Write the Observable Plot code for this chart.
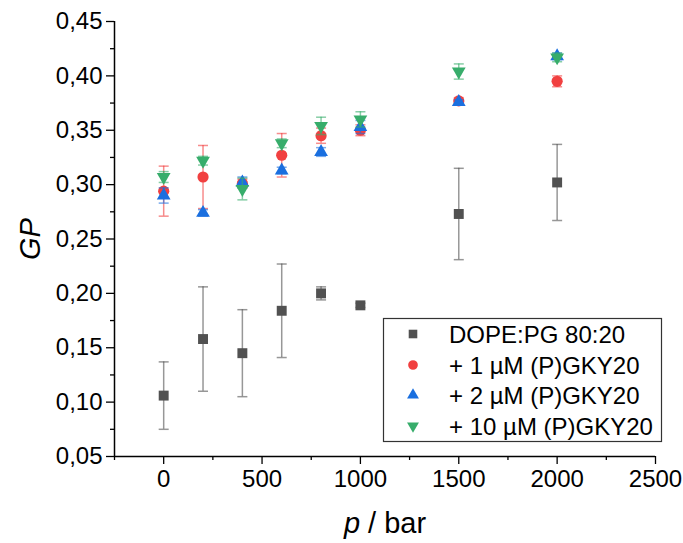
<!DOCTYPE html>
<html>
<head>
<meta charset="utf-8">
<script src="https://cdn.jsdelivr.net/npm/d3@7"></script>
<script src="https://cdn.jsdelivr.net/npm/@observablehq/plot@0.6"></script>
<style>
  html, body { margin: 0; padding: 0; background: #fff; }
  #chart { position: relative; width: 683px; height: 543px; }
  svg { font-family: "Liberation Sans", Arial, sans-serif; }
</style>
</head>
<body>
<div id="chart"></div>
<script>
// ---- data ----
const pressure = [0, 200, 400, 600, 800, 1000, 1500, 2000];
const seriesNames = ["DOPE:PG 80:20", "+ 1 µM (P)GKY20", "+ 2 µM (P)GKY20", "+ 10 µM (P)GKY20"];
const gpDope = [0.106, 0.158, 0.145, 0.184, 0.200, 0.189, 0.273, 0.302];
const errDope = [0.031, 0.048, 0.040, 0.043, 0.006, 0.002, 0.042, 0.035];
const gp1 = [0.294, 0.307, 0.301, 0.327, 0.345, 0.350, 0.377, 0.395];
const err1 = [0.023, 0.029, 0.004, 0.020, 0.007, 0.005, 0.003, 0.005];
const gp2 = [0.290, 0.274, 0.302, 0.313, 0.330, 0.353, 0.376, 0.418];
const err2 = [0.007, 0.003, 0.005, 0.003, 0.004, 0.006, 0.002, 0.003];
const gp10 = [0.307, 0.322, 0.296, 0.338, 0.354, 0.360, 0.404, 0.417];
const err10 = [0.005, 0.004, 0.010, 0.004, 0.008, 0.007, 0.007, 0.004];
const xTicks = [0, 500, 1000, 1500, 2000, 2500];
const xMinorTicks = [-250, 250, 750, 1250, 1750, 2250];
const yTicks = [0.05, 0.10, 0.15, 0.20, 0.25, 0.30, 0.35, 0.40, 0.45];
const yMinorTicks = [0.075, 0.125, 0.175, 0.225, 0.275, 0.325, 0.375, 0.425];
const xDomain = [-250, 2500];
const yDomain = [0.05, 0.45];
const colors = ["#515151", "#F14040", "#1A6FDF", "#37AD6B"];

// ---- symbols ----
const triangleDown = {
  draw(context, size) {
    const y = -Math.sqrt(size / (Math.sqrt(3) * 3));
    context.moveTo(0, -y * 2);
    context.lineTo(-Math.sqrt(3) * y, y);
    context.lineTo(Math.sqrt(3) * y, y);
    context.closePath();
  }
};
const cap = {
  draw(context, size) {
    context.moveTo(-5, 0);
    context.lineTo(5, 0);
  }
};
const symbols = [d3.symbolSquare, d3.symbolCircle, d3.symbolTriangle, triangleDown];
const radii = [5.6, 5.6, 5.1, 5.1];

const gps = [gpDope, gp1, gp2, gp10];
const errs = [errDope, err1, err2, err10];
const series = gps.map((g, s) => pressure.map((p, i) => ({p, gp: g[i], e: errs[s][i], s})));

const fmtY = d => d.toFixed(2).replace(".", ",");
const fmtX = d => String(d);

const marks = [];
series.forEach((data, s) => {
  const c = colors[s];
  marks.push(Plot.ruleX(data, {x: "p", y1: d => d.gp - d.e, y2: d => d.gp + d.e, stroke: c, strokeOpacity: 0.6, strokeWidth: 1.5}));
  marks.push(Plot.dot(data, {x: "p", y: d => d.gp - d.e, symbol: cap, r: 3, fill: "none", stroke: c, strokeOpacity: 0.6, strokeWidth: 1.5}));
  marks.push(Plot.dot(data, {x: "p", y: d => d.gp + d.e, symbol: cap, r: 3, fill: "none", stroke: c, strokeOpacity: 0.6, strokeWidth: 1.5}));
  marks.push(Plot.dot(data, {x: "p", y: "gp", symbol: symbols[s], r: radii[s], fill: c, stroke: "none"}));
});

const chart = Plot.plot({
  width: 683,
  height: 543,
  marginLeft: 114,
  marginRight: 28,
  marginTop: 21,
  marginBottom: 87,
  style: {fontFamily: "Liberation Sans, Arial, sans-serif", color: "#000", background: "#fff"},
  x: {domain: xDomain, nice: false},
  y: {domain: yDomain, nice: false},
  marks: [
    Plot.axisX({ticks: xTicks, tickSize: 8, tickPadding: 5, fontSize: 24, tickFormat: fmtX, label: null, strokeWidth: 1.3}),
    Plot.axisX({ticks: xMinorTicks, tickSize: 4, text: null, label: null, strokeWidth: 1.3}),
    Plot.axisY({ticks: yTicks, tickSize: 8, tickPadding: 4, fontSize: 24, tickFormat: fmtY, label: null, strokeWidth: 1.3}),
    Plot.axisY({ticks: yMinorTicks, tickSize: 4, text: null, label: null, strokeWidth: 1.3}),
    Plot.ruleX([xDomain[0]], {strokeWidth: 1.5}),
    Plot.ruleY([yDomain[0]], {strokeWidth: 1.5}),
    ...marks
  ]
});

document.getElementById("chart").appendChild(chart);

// ---- axis titles and legend ----
const svg = d3.select(chart);
const xt = svg.append("text")
  .attr("x", 385).attr("y", 533)
  .attr("text-anchor", "middle")
  .attr("font-size", 29).attr("fill", "#000");
xt.append("tspan").attr("font-style", "italic").text("p");
xt.append("tspan").text(" / bar");

svg.append("text")
  .attr("transform", "translate(40,239) rotate(-90)")
  .attr("text-anchor", "middle")
  .attr("font-size", 29).attr("font-style", "italic").attr("fill", "#000")
  .text("GP");

const lg = svg.append("g").attr("text-anchor", "start");
lg.append("rect")
  .attr("x", 383.5).attr("y", 318.5).attr("width", 278).attr("height", 123)
  .attr("fill", "#fff").attr("stroke", "#333").attr("stroke-width", 1.2);
const rowsY = [334, 365, 395, 426];
seriesNames.forEach((name, i) => {
  lg.append("path")
    .attr("d", d3.symbol(symbols[i], Math.PI * radii[i] * radii[i] * 0.75)())
    .attr("transform", `translate(413,${rowsY[i]})`)
    .attr("fill", colors[i]);
  lg.append("text")
    .attr("x", 449).attr("y", rowsY[i])
    .attr("dy", "0.36em")
    .attr("text-anchor", "start")
    .attr("font-size", 24).attr("fill", "#000")
    .text(name);
});
</script>
</body>
</html>
